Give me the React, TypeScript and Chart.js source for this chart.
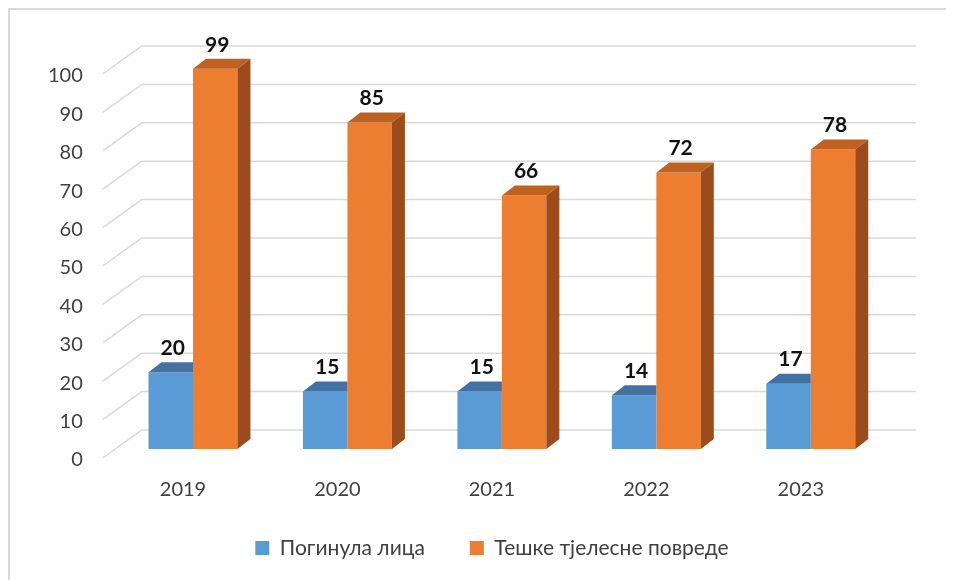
import React, { useEffect, useRef } from "react";
import { Chart, registerables } from "chart.js";

Chart.register(...registerables);

const categories = ["2019", "2020", "2021", "2022", "2023"];
const seriesNames = ["Погинула лица", "Тешке тјелесне повреде"];
const killed = [20, 15, 15, 14, 17];
const injured = [99, 85, 66, 72, 78];
const yTicks = [0, 10, 20, 30, 40, 50, 60, 70, 80, 90, 100];

const FONT = "Lato, 'Noto Sans', 'DejaVu Sans', sans-serif";
const TEXT = "#404040";
const frontColors = ["#5B9BD5", "#ED7D31"];
const topColors = ["#4472A0", "#BF611F"];
const sideColors = ["#3A6590", "#9C4C1A"];
const DX = 13;
const DY = 10;

const bar3d = {
  id: "bar3d",
  beforeDatasetsDraw(chart: any) {
    const { ctx, chartArea } = chart;
    const y = chart.scales.y;
    ctx.save();
    ctx.strokeStyle = "#d9d9d9";
    ctx.lineWidth = 1.5;
    for (const v of yTicks) {
      const yF = y.getPixelForValue(v) + 9;
      const yB = yF - 28;
      ctx.beginPath();
      ctx.moveTo(chartArea.left - 13, yF);
      ctx.lineTo(chartArea.left + 26, yB);
      ctx.lineTo(chartArea.right + 28, yB);
      ctx.stroke();
    }
    ctx.restore();
  },
  afterDatasetsDraw(chart: any) {
    const ctx = chart.ctx;
    ctx.save();
    const n = chart.data.datasets.length;
    chart.data.datasets.forEach((ds: any, di: number) => {
      const meta = chart.getDatasetMeta(di);
      meta.data.forEach((el: any) => {
        const { x, y, base, width } = el.getProps(["x", "y", "base", "width"], true);
        const l = x - width / 2;
        const r = x + width / 2;
        ctx.fillStyle = topColors[di];
        ctx.beginPath();
        if (di < n - 1) {
          ctx.moveTo(l, y);
          ctx.lineTo(r, y);
          ctx.lineTo(r, y - DY);
          ctx.lineTo(l + DX, y - DY);
        } else {
          ctx.moveTo(l, y);
          ctx.lineTo(r, y);
          ctx.lineTo(r + DX, y - DY);
          ctx.lineTo(l + DX, y - DY);
        }
        ctx.closePath();
        ctx.fill();
        if (di === n - 1) {
          ctx.fillStyle = sideColors[di];
          ctx.beginPath();
          ctx.moveTo(r, y);
          ctx.lineTo(r + DX, y - DY);
          ctx.lineTo(r + DX, base - DY);
          ctx.lineTo(r, base);
          ctx.closePath();
          ctx.fill();
        }
      });
    });
    ctx.font = `bold 21px ${FONT}`;
    ctx.fillStyle = "#111111";
    ctx.textAlign = "center";
    ctx.textBaseline = "middle";
    chart.data.datasets.forEach((ds: any, di: number) => {
      const meta = chart.getDatasetMeta(di);
      meta.data.forEach((el: any, i: number) => {
        const { x, y } = el.getProps(["x", "y"], true);
        ctx.fillText(String(ds.data[i]), x + 2, y - 24);
      });
    });
    ctx.restore();
  },
};

export default function App() {
  const ref = useRef<HTMLCanvasElement>(null);
  useEffect(() => {
    if (!ref.current) return;
    const chart = new Chart(ref.current, {
      type: "bar",
      data: {
        labels: categories,
        datasets: [
          {
            label: seriesNames[0],
            data: killed,
            backgroundColor: frontColors[0],
            borderWidth: 0,
            yAxisID: "y",
            categoryPercentage: 0.576,
            barPercentage: 1,
          },
          {
            label: seriesNames[1],
            data: injured,
            backgroundColor: frontColors[1],
            borderWidth: 0,
            yAxisID: "y",
            categoryPercentage: 0.576,
            barPercentage: 1,
          },
        ],
      },
      options: {
        animation: false,
        responsive: false,
        devicePixelRatio: 1,
        layout: { padding: { top: 55, right: 0, bottom: 31.5, left: 0 } },
        plugins: {
          tooltip: { enabled: false },
          legend: {
            position: "bottom",
            labels: {
              boxWidth: 14,
              boxHeight: 14,
              padding: 45,
              color: TEXT,
              font: { family: FONT, size: 21 },
            },
          },
        },
        scales: {
          x: {
            grid: { display: false, drawTicks: false },
            border: { display: false },
            ticks: {
              color: TEXT,
              font: { family: FONT, size: 20 },
              mirror: true,
              padding: -53,
              labelOffset: -10,
            },
            afterFit: (s: any) => {
              s.height = 43.5;
            },
          },
          y: {
            position: "left",
            min: 0,
            max: 100,
            grid: { display: false, drawTicks: false },
            border: { display: false },
            ticks: {
              stepSize: 10,
              color: TEXT,
              font: { family: FONT, size: 20 },
              padding: 33,
              labelOffset: 11,
            },
            afterFit: (s: any) => {
              s.width = 105.75;
            },
          },
          yR: {
            position: "right",
            display: true,
            grid: { display: false, drawTicks: false },
            border: { display: false },
            ticks: { display: false },
            afterFit: (s: any) => {
              s.width = 86;
            },
          },
        },
      },
      plugins: [bar3d],
    });
    return () => chart.destroy();
  }, []);

  return (
    <div style={{ width: 946, height: 572, overflow: "hidden" }}>
      <div
        style={{
          width: 968,
          height: 594,
          border: "2px solid #d9d9d9",
          boxSizing: "border-box",
        }}
      >
        <canvas ref={ref} width={964} height={590} style={{ display: "block", width: 964, height: 590 }} />
      </div>
    </div>
  );
}
